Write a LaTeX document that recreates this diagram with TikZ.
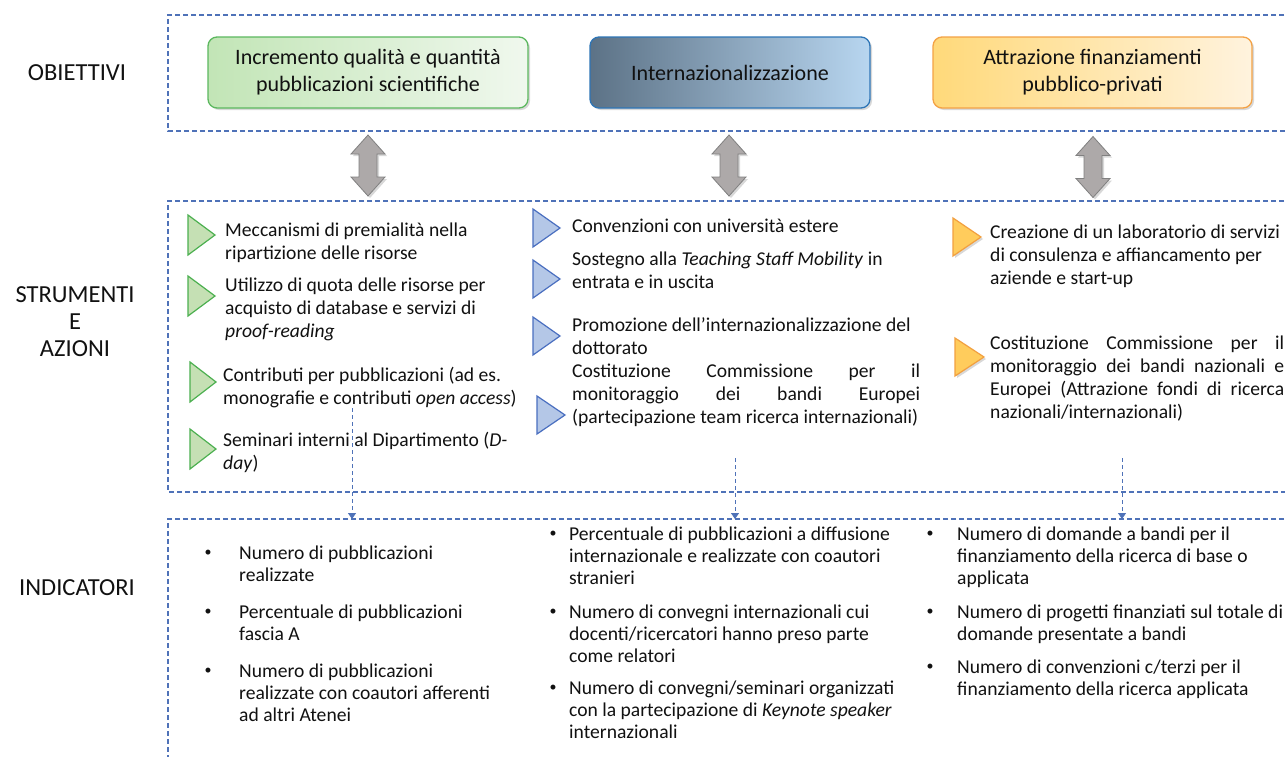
\documentclass[tikz,border=0pt]{standalone}
\usepackage{fontspec}
\setmainfont{Carlito}
\usetikzlibrary{shadows,arrows.meta}
\definecolor{dashblue}{HTML}{4F72B8}
\definecolor{gbord}{HTML}{5CB85F}
\definecolor{gleft}{HTML}{C2E5B6}
\definecolor{gright}{HTML}{F0F8EE}
\definecolor{bbord}{HTML}{2E75B6}
\definecolor{bleft}{HTML}{5C7286}
\definecolor{bright}{HTML}{B8D6F0}
\definecolor{obord}{HTML}{F4A245}
\definecolor{oleft}{HTML}{FFD97A}
\definecolor{oright}{HTML}{FFF3DE}
\definecolor{arrowgray}{HTML}{ADA9A9}
\definecolor{arrowborder}{HTML}{808080}
\definecolor{tgfill}{HTML}{C5E0B4}
\definecolor{tgbord}{HTML}{4CB050}
\definecolor{tbfill}{HTML}{B4C7E7}
\definecolor{tbbord}{HTML}{4A6FC0}
\definecolor{tofill}{HTML}{FFCC5C}
\definecolor{tobord}{HTML}{F2A040}
\definecolor{txtcol}{HTML}{111111}
\newcommand\jline[2]{\hbox to #1{#2}}
\begin{document}
\begin{tikzpicture}[x=1pt,y=-1pt,
  dbox/.style={draw=dashblue, line width=1.1pt, dash pattern=on 5pt off 3pt},
  obj/.style={rounded corners=9pt, line width=1.3pt, minimum height=71pt, align=center,
    font=\fontsize{22}{27}\selectfont, text=txtcol,
    drop shadow={shadow xshift=2pt,shadow yshift=-2pt,opacity=0.3}},
  txt/.style={font=\fontsize{19.6}{23}\selectfont, align=left, inner sep=0pt, anchor=north west, text=txtcol},
  ind/.style={txt, font=\fontsize{19.6}{22}\selectfont},
  bul/.style={font=\fontsize{14}{14}\selectfont, inner sep=0pt, anchor=base west, text=txtcol},
  lbl/.style={font=\fontsize{24.5}{27}\selectfont, align=center, text=txtcol, inner sep=0pt},
  garrow/.style={fill=arrowgray, draw=arrowborder, line width=0.8pt,
    drop shadow={shadow xshift=2pt,shadow yshift=-2pt,opacity=0.3}},
  gtri/.style={fill=tgfill, draw=tgbord, line width=1.2pt},
  btri/.style={fill=tbfill, draw=tbbord, line width=1.2pt},
  otri/.style={fill=tofill, draw=tobord, line width=1.2pt,
    drop shadow={shadow xshift=2pt,shadow yshift=-2pt,opacity=0.3}},
  link/.style={draw=dashblue, line width=1pt, dash pattern=on 4pt off 3pt,
    -{Triangle[width=8pt,length=6pt]}},
  dblarrow/.pic={\draw[garrow] (0,-30.5) -- (17,-11.5) -- (9,-11.5) -- (9,11.5) -- (17,11.5)
    -- (0,30.5) -- (-17,11.5) -- (-9,11.5) -- (-9,-11.5) -- (-17,-11.5) -- cycle;}
]
\useasboundingbox (0,0) rectangle (1285,756);
\fill[white] (0,0) rectangle (1285,756);
\clip (0,0) rectangle (1285,756);

% dashed frames
\draw[dbox] (1300,15) -- (168,15) -- (168,131) -- (1300,131);
\draw[dbox] (1300,201) -- (168,201) -- (168,492) -- (1300,492);
\draw[dbox] (1300,519) -- (168,519) -- (168,770);

% left labels
\node[lbl] (lobj) at (77,73) {OBIETTIVI};
\node[lbl] (lstr) at (75,322) {STRUMENTI\\E\\AZIONI};
\node[lbl] (lind) at (77,588) {INDICATORI};

% objectives
\node[obj, draw=gbord, left color=gleft, right color=gright, minimum width=320pt] (og) at (368,72.5)
  {Incremento qualità e quantità\\pubblicazioni scientifiche};
\node[obj, draw=bbord, left color=bleft, right color=bright, minimum width=280pt] (ob) at (730,72.5)
  {Internazionalizzazione};
\node[obj, draw=obord, left color=oleft, right color=oright, minimum width=319pt] (oo) at (1092.5,72.5)
  {Attrazione finanziamenti\\pubblico-privati};

% double arrows
\pic at (368,165.5) {dblarrow};
\pic at (729,165.5) {dblarrow};
\pic at (1093,167) {dblarrow};

% green triangles + texts
\draw[gtri] (188,215) -- (215,235) -- (188,255) -- cycle;
\draw[gtri] (188,276) -- (215,296) -- (188,316) -- cycle;
\draw[gtri] (190,362) -- (216,382) -- (190,402) -- cycle;
\draw[gtri] (190,429) -- (216,449) -- (190,469) -- cycle;
\node[txt] (g1) at (225,223) {Meccanismi di premialità nella\\ripartizione delle risorse};
\node[txt] (g2) at (225,278) {Utilizzo di quota delle risorse per\\acquisto di database e servizi di\\\textit{proof-reading}};
\node[txt] (g3) at (223,367) {Contributi per pubblicazioni (ad es.\\monografie e contributi \textit{open access})};
\node[txt] (g4) at (223,432) {Seminari interni al Dipartimento (\textit{D-}\\\textit{day})};

% blue triangles + texts
\draw[btri] (533,209) -- (560,228) -- (533,247) -- cycle;
\draw[btri] (533,260) -- (560,279) -- (533,298) -- cycle;
\draw[btri] (533,317) -- (560,336) -- (533,355) -- cycle;
\draw[btri] (537,396) -- (565,415) -- (537,434) -- cycle;
\node[txt] (b1) at (572,219) {Convenzioni con università estere};
\node[txt] (b2) at (572,252) {Sostegno alla \textit{Teaching Staff Mobility} in\\entrata e in uscita};
\node[txt] (b3) at (572,317) {Promozione dell’internazionalizzazione del\\dottorato\\
  \jline{348pt}{Costituzione\hfill Commissione\hfill per\hfill il}\\
  \jline{348pt}{monitoraggio\hfill dei\hfill bandi\hfill Europei}\\
  (partecipazione team ricerca internazionali)};

% orange triangles + texts
\draw[otri] (953,218) -- (981,237) -- (953,256) -- cycle;
\draw[otri] (955,338) -- (984,357) -- (955,376) -- cycle;
\node[txt] (o1) at (990,225) {Creazione di un laboratorio di servizi\\di consulenza e affiancamento per\\aziende e start-up};
\node[txt] (o2) at (990,336) {\jline{294pt}{Costituzione\hfill Commissione\hfill per\hfill il}\\
  \jline{294pt}{monitoraggio\hfill dei\hfill bandi\hfill nazionali\hfill e}\\
  \jline{294pt}{Europei\hfill (Attrazione\hfill fondi\hfill di\hfill ricerca}\\
  nazionali/internazionali)};

% connectors to indicators
\coordinate (s1) at (352,408); \coordinate (e1) at (352,519);
\coordinate (s2) at (735,458); \coordinate (e2) at (735,519);
\coordinate (s3) at (1122,458); \coordinate (e3) at (1122,519);
\draw[link] (s1) -- (e1);
\draw[link] (s2) -- (e2);
\draw[link] (s3) -- (e3);

% indicators column 1
\node[bul] (i1a) at (204.5,556) {•};
\node[ind] (i1at) at (239,546) {Numero di pubblicazioni\\realizzate};
\node[bul] (i1b) at (204.5,615) {•};
\node[ind] (i1bt) at (239,605) {Percentuale di pubblicazioni\\fascia A};
\node[bul] (i1c) at (204.5,674) {•};
\node[ind] (i1ct) at (239,664) {Numero di pubblicazioni\\realizzate con coautori afferenti\\ad altri Atenei};

% indicators column 2
\node[bul] (i2a) at (549.5,537) {•};
\node[ind] (i2at) at (569,527) {Percentuale di pubblicazioni a diffusione\\internazionale e realizzate con coautori\\stranieri};
\node[bul] (i2b) at (549.5,615) {•};
\node[ind] (i2bt) at (569,605) {Numero di convegni internazionali cui\\docenti/ricercatori hanno preso parte\\come relatori};
\node[bul] (i2c) at (549.5,691) {•};
\node[ind] (i2ct) at (569,681) {Numero di convegni/seminari organizzati\\con la partecipazione di \textit{Keynote speaker}\\internazionali};

% indicators column 3
\node[bul] (i3a) at (926.5,537) {•};
\node[ind] (i3at) at (957,527) {Numero di domande a bandi per il\\finanziamento della ricerca di base o\\applicata};
\node[bul] (i3b) at (926.5,615) {•};
\node[ind] (i3bt) at (957,605) {Numero di progetti finanziati sul totale di\\domande presentate a bandi};
\node[bul] (i3c) at (926.5,670) {•};
\node[ind] (i3ct) at (957,660) {Numero di convenzioni c/terzi per il\\finanziamento della ricerca applicata};
\end{tikzpicture}
\end{document}
